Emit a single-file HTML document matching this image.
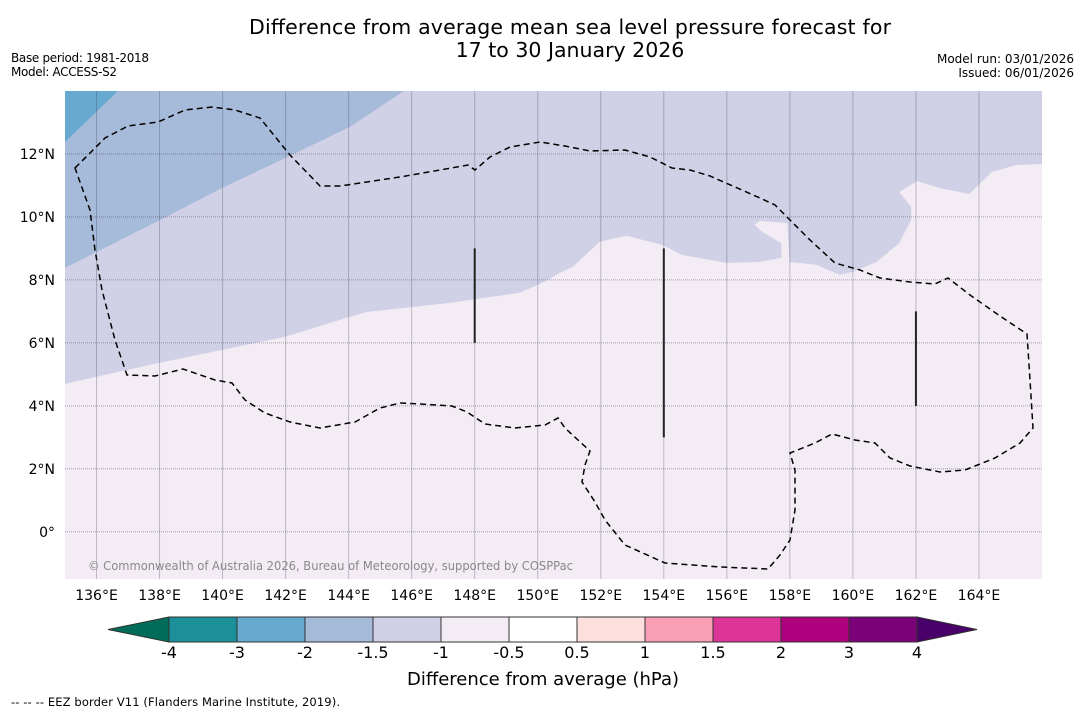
<!DOCTYPE html>
<html><head><meta charset="utf-8"><style>
html,body{margin:0;padding:0;background:#fff;width:1085px;height:713px;overflow:hidden;font-family:"DejaVu Sans","Liberation Sans",sans-serif;}
</style></head><body>
<svg id="fig" width="1085" height="713" xmlns="http://www.w3.org/2000/svg" font-family="DejaVu Sans, Liberation Sans, sans-serif">
<text x="570" y="34" font-size="20.5" text-anchor="middle" textLength="642">Difference from average mean sea level pressure forecast for</text>
<text x="570" y="57" font-size="20.5" text-anchor="middle">17 to 30 January 2026</text>
<text x="11" y="62" font-size="12" textLength="138">Base period: 1981-2018</text>
<text x="11" y="76" font-size="12" textLength="106">Model: ACCESS-S2</text>
<text x="1074" y="63" font-size="12" text-anchor="end">Model run: 03/01/2026</text>
<text x="1074" y="77" font-size="12" text-anchor="end">Issued: 06/01/2026</text>
<g id="map"></g>
<g id="cbar"></g>
<text x="543" y="685" font-size="18" text-anchor="middle">Difference from average (hPa)</text>
<text x="11" y="706" font-size="11.5" textLength="329">--  --  -- EEZ border V11 (Flanders Marine Institute, 2019).</text>
</svg>
<script>
const NS='http://www.w3.org/2000/svg';
// ---- data ----
const lonTicks=[136,138,140,142,144,146,148,150,152,154,156,158,160,162,164];
const latTicks=[0,2,4,6,8,10,12];
const cbBounds=[-4,-3,-2,-1.5,-1,-0.5,0.5,1,1.5,2,3,4];
const cbColors=['#1c9099','#67a9cf','#a6bad9','#d0d1e6','#f4ecf5','#ffffff','#fde0dd','#fa9fb5','#dd3497','#ae017e','#7a0177'];
const cbLabels=['-4','-3','-2','-1.5','-1','-0.5','0.5','1','1.5','2','3','4'];
// contour boundaries [lon,lat]
const zoneBelow3=[[135,12.38],[136.68,14]];
const zoneBelow2=[[135,8.38],[138.01,9.90],[139.98,10.92],[141.98,11.87],[144.04,12.86],[145.75,14]];
const zoneBelow1=[[135,4.70],[138.01,5.37],[141.98,6.19],[144.04,6.83],[144.58,6.98],[147.21,7.27],[149.43,7.59],[150.22,7.94],[150.69,8.22],[151.11,8.41],[151.96,9.21],[152.82,9.40],[153.96,9.11],[154.59,8.79],[155.99,8.54],[157.04,8.57],[157.73,8.70],[157.73,9.17],[157.13,9.52],[156.88,9.75],[157.04,9.87],[157.92,9.81],[157.99,8.57],[158.84,8.48],[159.57,8.16],[159.98,8.25],[160.75,8.57],[161.47,9.17],[161.85,9.90],[161.85,10.32],[161.47,10.79],[162.04,11.14],[162.74,10.92],[163.69,10.73],[164.42,11.43],[165.18,11.65],[166,11.68]];
const markerLons=[148,154,162];
const markerTop=[9,9,7];
const markerBot=[6,3,4];
// ---- axes ----
const L=65,R=1042,T=91,B=579,lon0=135,lon1=166,lat0=-1.5,lat1=14;
const X=lon=>L+(lon-lon0)/(lon1-lon0)*(R-L);
const Y=lat=>T+(lat1-lat)/(lat1-lat0)*(B-T);
const map=document.getElementById('map');
function mk(tag,attrs,parent){const e=document.createElementNS(NS,tag);for(const k in attrs)e.setAttribute(k,attrs[k]);(parent||map).appendChild(e);return e;}
const clip=mk('clipPath',{id:'mc'});mk('rect',{x:L,y:T,width:R-L,height:B-T},clip);
const g=mk('g',{'clip-path':'url(#mc)'});
let e=mk('rect',{x:L,y:T,width:R-L,height:B-T,fill:'#d0d1e6'},g);


function pts(a){return a.map(p=>X(p[0]).toFixed(1)+','+Y(p[1]).toFixed(1)).join(' ');}
e=mk('polygon',{points:pts(zoneBelow1)+' '+X(lon1)+','+Y(lat0)+' '+X(lon0)+','+Y(lat0),fill:'#f4ecf5'},g);


e=mk('polygon',{points:pts(zoneBelow2)+' '+X(lon0)+','+Y(lat1),fill:'#a6bad9'},g);


e=mk('polygon',{points:pts(zoneBelow3)+' '+X(lon0)+','+Y(lat1),fill:'#67a9cf'},g);


// gridlines
lonTicks.forEach(v=>{const l=mk('line',{x1:X(v),x2:X(v),y1:T,y2:B,stroke:'rgba(60,60,80,0.3)','stroke-width':1},g);


const t=mk('text',{x:X(v),y:600,'font-size':14,'text-anchor':'middle'});t.textContent=v+'°E';

});
latTicks.forEach(v=>{const l=mk('line',{x1:L,x2:R,y1:Y(v),y2:Y(v),stroke:'rgba(60,60,80,0.45)','stroke-width':1,'stroke-dasharray':'1,1'},g);


const t=mk('text',{x:55,y:Y(v)+5,'font-size':14,'text-anchor':'end'});t.textContent=v===0?'0°':v+'°N';

});
// EEZ border
e=mk('path',{d:'M75,168 L90,153 105,138 128,126 158,122 185,110 212,107 235,110 260,118 290,155 320,186 340,186 400,177 440,170 468,165 475,170 490,157 510,147 540,142 565,146 590,151 625,150 650,157 672,168 690,170 710,176 735,187 760,198 775,205 790,220 810,240 835,263 860,270 880,278 910,282 935,284 948,278 970,295 1000,316 1027,334 1030,380 1033,428 1020,443 995,458 965,470 940,472 910,466 890,458 875,443 855,440 832,434 815,443 790,453 795,470 795,510 790,540 780,555 768,569 720,567 665,563 625,545 605,520 595,502 582,482 585,465 590,451 578,440 565,428 558,418 545,425 515,428 485,424 467,412 452,406 420,404 400,403 380,408 355,422 320,428 290,422 265,413 245,400 232,383 215,380 183,369 155,376 127,375 115,340 102,290 95,250 90,210 Z',fill:'none',stroke:'#000','stroke-width':1.5,'stroke-dasharray':'6,4'},g);


markerLons.forEach((v,i)=>{const l=mk('line',{x1:X(v),x2:X(v),y1:Y(markerTop[i]),y2:Y(markerBot[i]),stroke:'#222','stroke-width':2},g);

});
e=mk('text',{x:88,y:570,'font-size':12,fill:'#888',textLength:485,lengthAdjust:'spacingAndGlyphs'},g);e.textContent='© Commonwealth of Australia 2026, Bureau of Meteorology, supported by COSPPac';


// colorbar
const cb=document.getElementById('cbar');
const CL=169,CR=917,CT=617,CB=642,n=cbColors.length,sw=(CR-CL)/n;
const cx=i=>CL+i*sw;
e=mk('polygon',{points:`${CL},${CT} ${108},${(CT+CB)/2} ${CL},${CB}`,fill:'#016c59',stroke:'#333','stroke-width':1},cb);


e=mk('polygon',{points:`${CR},${CT} ${977},${(CT+CB)/2} ${CR},${CB}`,fill:'#49006a',stroke:'#333','stroke-width':1},cb);


cbColors.forEach((c,i)=>{const r=mk('rect',{x:cx(i),y:CT,width:sw,height:CB-CT,fill:c,stroke:'#333','stroke-width':1},cb);

});
cbLabels.forEach((s,i)=>{const t=mk('text',{x:cx(i),y:658,'font-size':16,'text-anchor':'middle'},cb);t.textContent=s;

});
</script>
</body></html>
